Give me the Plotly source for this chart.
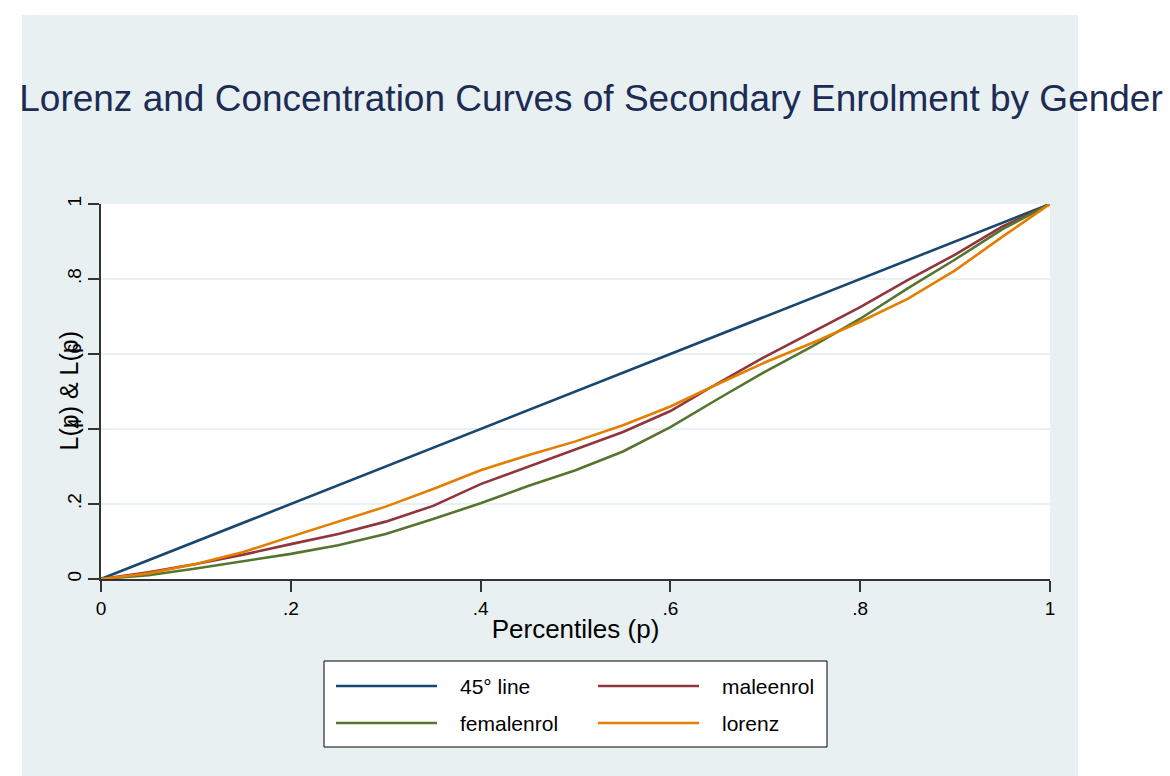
import plotly.graph_objects as go

# ---- data ----
percentiles = [0, .05, .1, .15, .2, .25, .3, .35, .4, .45, .5, .55, .6, .65, .7, .75, .8, .85, .9, .95, 1]
line45 = list(percentiles)
maleenrol = [0, .018, .04, .065, .093, .12, .153, .195, .253, .30, .345, .392, .448, .522, .593, .66, .725, .797, .865, .94, 1]
femalenrol = [0, .010, .028, .047, .067, .09, .12, .16, .202, .248, .29, .34, .405, .48, .553, .621, .694, .775, .852, .933, 1]
lorenz = [0, .015, .04, .072, .113, .152, .193, .24, .29, .33, .367, .41, .46, .52, .578, .63, .686, .747, .823, .913, 1]

series_names = ["45° line", "maleenrol", "femalenrol", "lorenz"]
series_values = [line45, maleenrol, femalenrol, lorenz]
colors = ["#1a476f", "#90353b", "#55752f", "#e37e00"]

tick_vals = [0, .2, .4, .6, .8, 1]
tick_text = ["0", ".2", ".4", ".6", ".8", "1"]

title_text = "Lorenz and Concentration Curves of Secondary Enrolment by Gender"
x_title = "Percentiles (p)"
y_title = "L(p) & L(p)"

BG = "#E8F0F2"
FONT = "Liberation Sans, Arial, sans-serif"

fig = go.Figure()
for name, vals, col in zip(series_names, series_values, colors):
    fig.add_trace(go.Scatter(x=percentiles, y=vals, mode="lines", name=name,
                             line=dict(color=col, width=2.6), showlegend=False))

W, H = 1170, 776
L_, R_, T_, B_ = 101, 1050, 204, 579
pw, ph = R_ - L_, B_ - T_

def px(xp):
    return (xp - L_) / pw

def py(yp):
    return (B_ - yp) / ph

shapes = [
    dict(type="rect", xref="paper", yref="paper", x0=px(22), x1=px(1078), y0=py(776), y1=py(15),
         fillcolor=BG, line=dict(width=0), layer="below"),
    dict(type="rect", xref="paper", yref="paper", x0=0, x1=1, y0=0, y1=1,
         fillcolor="white", line=dict(width=0), layer="below"),
    # legend box
    dict(type="rect", xref="paper", yref="paper", x0=px(324), x1=px(827), y0=py(747), y1=py(661),
         fillcolor="white", line=dict(color="#000000", width=1)),
]
annotations = [
    dict(text=y_title, xref="paper", yref="paper", x=px(68), y=0.5, textangle=-90,
         showarrow=False, xanchor="center", yanchor="middle",
         font=dict(family=FONT, size=25, color="#000000")),
]

# legend entries (2 columns)
leg_pos = [(336, 437, 458, 686), (598, 699, 720, 686), (336, 437, 458, 723), (598, 699, 720, 723)]
for (x0, x1, tx, yy), name, col in zip(leg_pos, series_names, colors):
    shapes.append(dict(type="line", xref="paper", yref="paper", x0=px(x0), x1=px(x1),
                       y0=py(yy), y1=py(yy), line=dict(color=col, width=2.6)))
    annotations.append(dict(text=name, xref="paper", yref="paper", x=px(tx), y=py(yy),
                            showarrow=False, xanchor="left", yanchor="middle",
                            font=dict(family=FONT, size=21, color="#000000")))

fig.update_layout(
    width=W, height=H,
    margin=dict(l=L_, r=W - R_, t=T_, b=H - B_, pad=0),
    paper_bgcolor="white", plot_bgcolor="white",
    font=dict(family=FONT, color="#000000"),
    title=dict(text=title_text, xref="container", yref="container", x=591 / W, xanchor="center",
               y=1 - 98 / H, yanchor="middle", font=dict(family=FONT, size=37, color="#1C2C54")),
    shapes=shapes, annotations=annotations, showlegend=False,
)
fig.update_xaxes(range=[0, 1], tickvals=tick_vals, ticktext=tick_text, showgrid=False, zeroline=False,
                 showline=True, linecolor="#333333", linewidth=1.5, ticks="outside", ticklen=11,
                 tickcolor="#333333", tickwidth=1.5, tickfont=dict(size=19, family=FONT),
                 title=dict(text=x_title, font=dict(size=26, family=FONT), standoff=2))
fig.update_yaxes(range=[0, 1], tickvals=tick_vals, ticktext=tick_text, showgrid=True, gridcolor=BG,
                 gridwidth=2, zeroline=False, showline=True, linecolor="#333333", linewidth=1.5,
                 ticks="outside", ticklen=11, tickcolor="#333333", tickwidth=1.5, tickangle=-90,
                 tickfont=dict(size=19, family=FONT))

fig.write_html("out.html")
